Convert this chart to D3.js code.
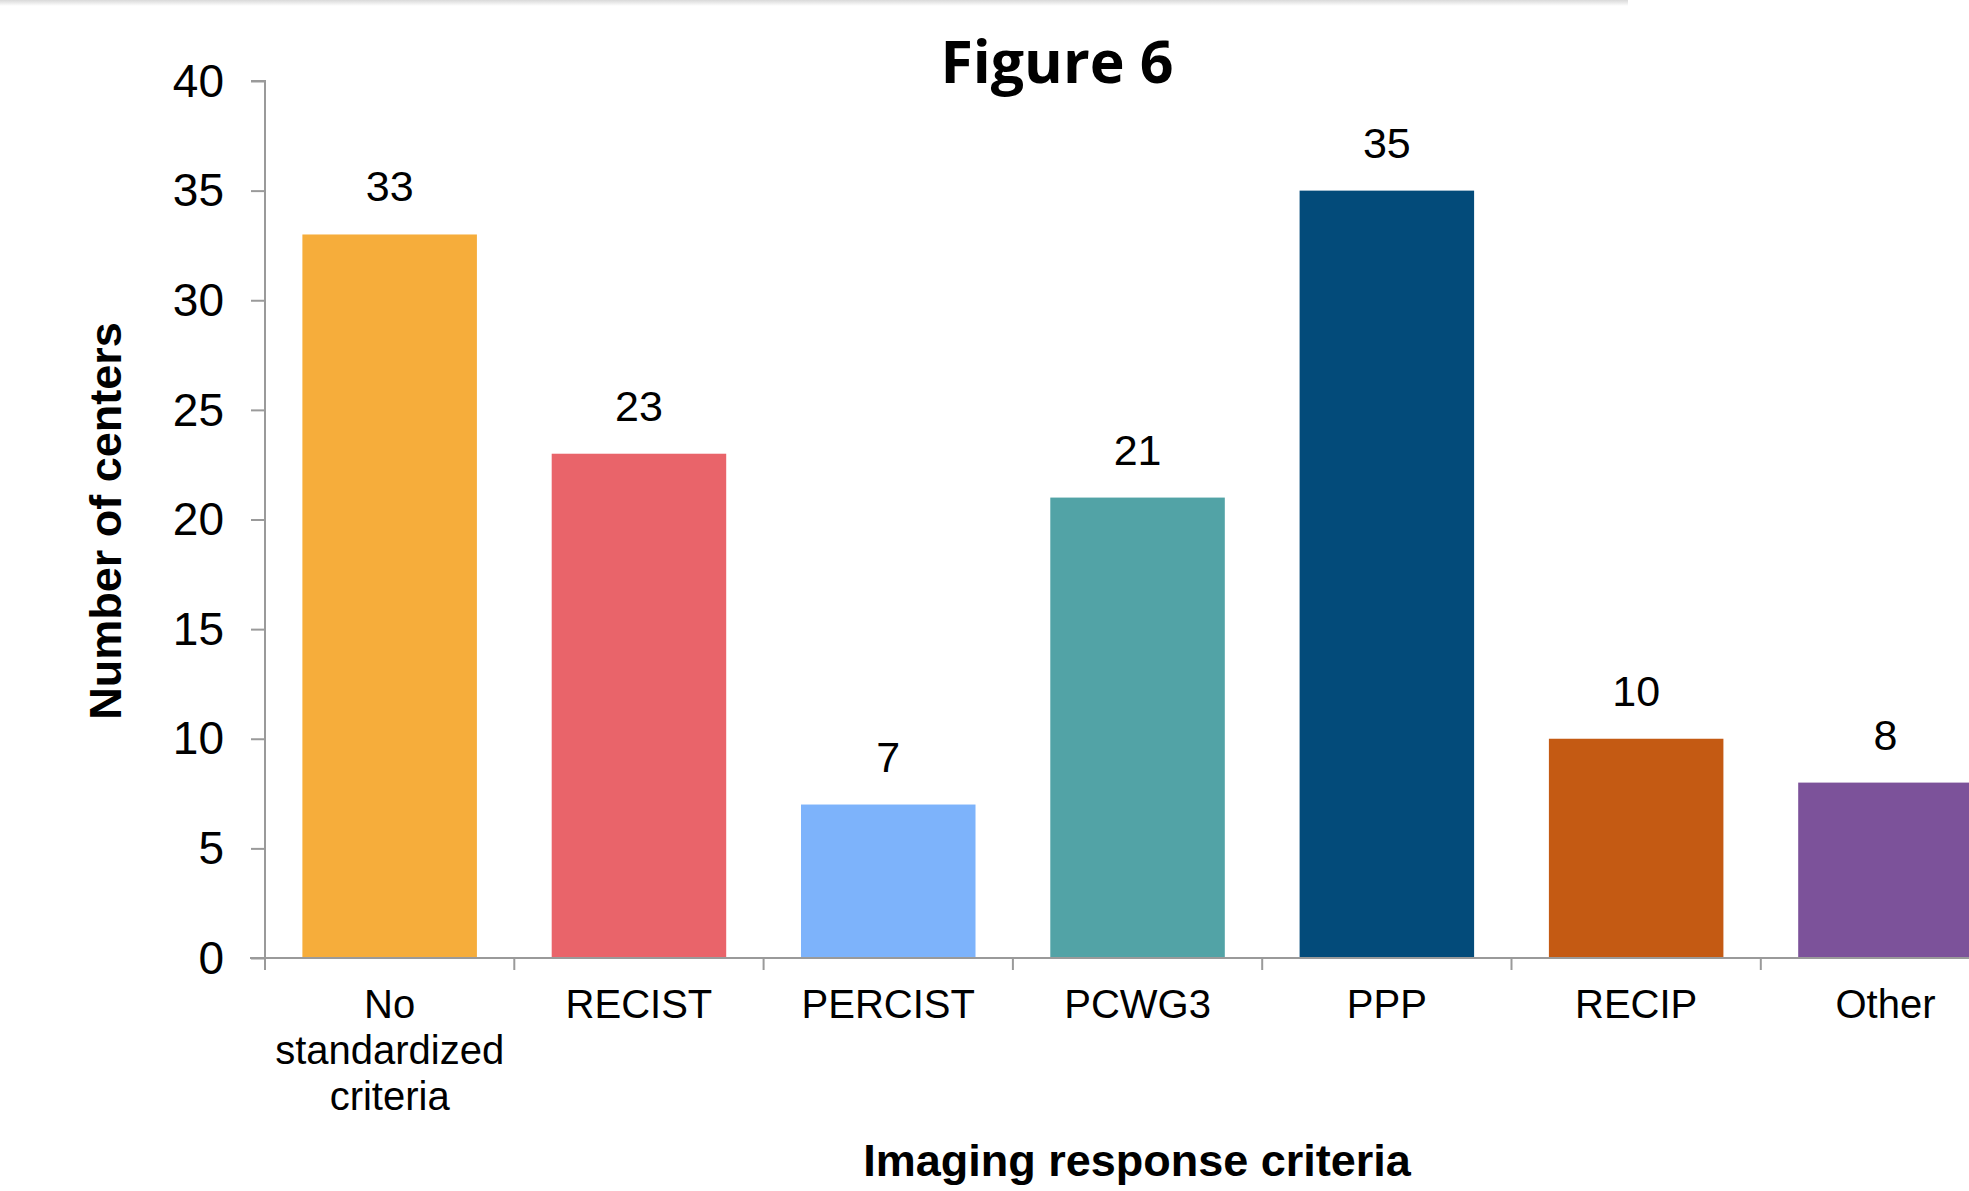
<!DOCTYPE html>
<html>
<head>
<meta charset="utf-8">
<script src="https://cdn.jsdelivr.net/npm/d3@7"></script>
<style>
  html, body { margin: 0; padding: 0; background: #ffffff; }
  svg { display: block; }
</style>
</head>
<body>
<svg id="chart" width="1969" height="1191"></svg>
<script>
// Imaging response criteria used by centers
const categories = ["No standardized criteria", "RECIST", "PERCIST", "PCWG3", "PPP", "RECIP", "Other"];
const categoryLines = [["No", "standardized", "criteria"], ["RECIST"], ["PERCIST"], ["PCWG3"], ["PPP"], ["RECIP"], ["Other"]];
const centers = [33, 23, 7, 21, 35, 10, 8];
const barColors = ["#F6AD3B", "#E9646A", "#7DB3FB", "#52A3A6", "#034B7A", "#C45A13", "#7C529A"];
const yTicks = [0, 5, 10, 15, 20, 25, 30, 35, 40];

const svg = d3.select("#chart");

// soft shadow strip along the top edge
const defs = svg.append("defs");
const grad = defs.append("linearGradient").attr("id", "topShade").attr("x1", 0).attr("y1", 0).attr("x2", 0).attr("y2", 1);
grad.append("stop").attr("offset", "0%").attr("stop-color", "#d9d9d9");
grad.append("stop").attr("offset", "100%").attr("stop-color", "#ffffff");
svg.append("rect").attr("x", 0).attr("y", 0).attr("width", 1628).attr("height", 6).attr("fill", "url(#topShade)");

const x = d3.scaleBand().domain(categories).range([265, 265 + 7 * 249.3]).paddingInner(0.30).paddingOuter(0.15);
const y = d3.scaleLinear().domain([0, 40]).range([958, 81]);

const axisColor = "#9a9a9a";
const numFont = "'Liberation Sans', Arial, Helvetica, sans-serif";

// y axis
const yAxis = svg.append("g").attr("transform", "translate(265,0)")
  .call(d3.axisLeft(y).tickValues(yTicks).tickSize(14).tickPadding(27));
yAxis.select(".domain").attr("stroke", axisColor).attr("stroke-width", 2).attr("d", `M-14,${y(40)}H0V${y(0)}`);
yAxis.selectAll(".tick line").attr("stroke", axisColor).attr("stroke-width", 2);
yAxis.selectAll(".tick text").attr("font-family", numFont).attr("font-size", 46).attr("fill", "#000").attr("dy", "0.33em");

// bars
svg.append("g").selectAll("rect").data(categories).join("rect")
  .attr("x", d => x(d))
  .attr("y", (d, i) => y(centers[i]))
  .attr("width", x.bandwidth())
  .attr("height", (d, i) => y(0) - y(centers[i]))
  .attr("fill", (d, i) => barColors[i]);

// x axis with boundary ticks between categories
const step = x.step();
const x0 = 265;
const xAxis = svg.append("g");
xAxis.append("line").attr("x1", 250).attr("x2", x0 + 7 * step).attr("y1", y(0)).attr("y2", y(0))
  .attr("stroke", axisColor).attr("stroke-width", 2);
xAxis.selectAll("line.bt").data(d3.range(8)).join("line").attr("class", "bt")
  .attr("x1", i => x0 + i * step).attr("x2", i => x0 + i * step)
  .attr("y1", y(0)).attr("y2", y(0) + 12)
  .attr("stroke", axisColor).attr("stroke-width", 2);

// category labels
const labels = svg.append("g");
categories.forEach((c, i) => {
  const t = labels.append("text")
    .attr("x", x(c) + x.bandwidth() / 2)
    .attr("y", 1018)
    .attr("text-anchor", "middle")
    .attr("font-family", numFont)
    .attr("font-size", 40)
    .attr("fill", "#000");
  categoryLines[i].forEach((line, k) => {
    t.append("tspan").attr("x", x(c) + x.bandwidth() / 2).attr("dy", k === 0 ? 0 : 46).text(line);
  });
});

// value labels above bars
svg.append("g").selectAll("text").data(categories).join("text")
  .attr("x", d => x(d) + x.bandwidth() / 2)
  .attr("y", (d, i) => y(centers[i]) - 33)
  .attr("text-anchor", "middle")
  .attr("font-family", numFont)
  .attr("font-size", 43)
  .attr("fill", "#000")
  .text((d, i) => centers[i]);

// titles
svg.append("text").attr("x", 1057).attr("y", 83).attr("text-anchor", "middle")
  .attr("font-family", "'Open Sans', 'Noto Sans', sans-serif").attr("font-weight", 700).attr("font-size", 59)
  .attr("fill", "#000").text("Figure 6");

svg.append("text").attr("transform", "translate(121,521) rotate(-90)").attr("text-anchor", "middle")
  .attr("font-family", numFont).attr("font-weight", 700).attr("font-size", 45)
  .attr("fill", "#000").text("Number of centers");

svg.append("text").attr("x", 1137).attr("y", 1176).attr("text-anchor", "middle")
  .attr("font-family", numFont).attr("font-weight", 700).attr("font-size", 45)
  .attr("fill", "#000").text("Imaging response criteria");
</script>
</body>
</html>
